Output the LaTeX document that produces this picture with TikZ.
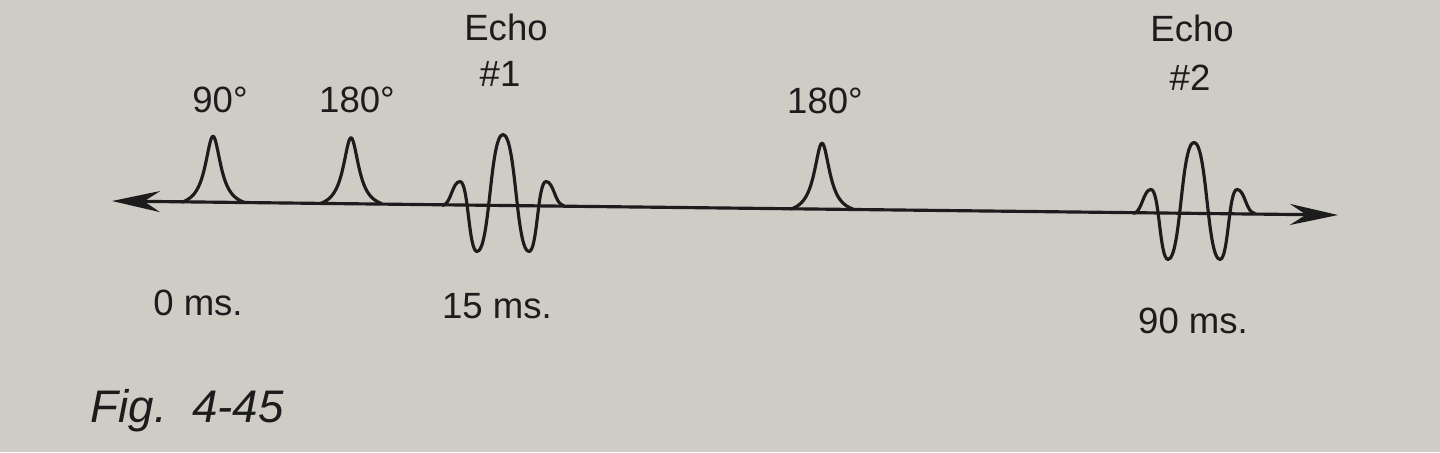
\documentclass[tikz,border=0pt]{standalone}
\usepackage{fontspec}
\setmainfont{Liberation Sans}
\usetikzlibrary{arrows.meta}
\definecolor{paper}{RGB}{207,204,198}
\definecolor{ink}{RGB}{28,28,28}

\begin{document}
\begin{tikzpicture}[x=0.1mm,y=-0.1mm,
    wave/.style={draw=ink,line width=0.9pt,line join=round},
    lbl/.style={text=ink,font=\fontsize{10.4}{12}\selectfont,inner sep=0pt,anchor=base},
    >={Stealth[length=4.8mm,width=2.1mm,inset=1.6mm]},
    rf/.pic={\draw[wave] plot[domain=-31:31,samples=63,smooth] (\x,{-66*(1/(1+(\x/9.5)^2)-0.0858)/0.9142});},
    echo/.pic={\draw[wave] (-61,0) .. controls (-52,0) and (-51,-24) .. (-43,-24)
        .. controls (-34.5,-24) and (-34.5,46) .. (-26,46)
        .. controls (-13,46) and (-13,-71) .. (0,-71)
        .. controls (13,-71) and (13,46) .. (26,46)
        .. controls (34.5,46) and (34.5,-24) .. (43,-24)
        .. controls (51,-24) and (52,0) .. (61,0);}
]
    \useasboundingbox (0,0) rectangle (1440,452);
    \fill[paper] (0,0) rectangle (1440,452);

    % time axis
    \coordinate (tstart) at (112,201);
    \coordinate (tend) at (1338,215);
    \draw[wave,<->] (tstart) -- (tend);

    % pulses and echoes
    \pic at (213,202.2) {rf};
    \pic at (351,203.7) {rf};
    \pic at (503,205.5) {echo};
    \pic at (822,209.1) {rf};
    \pic at (1194,213.4) {echo};

    % labels
    \node[lbl] (l90) at (220,112) {90°};
    \node[lbl] (l180a) at (357,112) {180°};
    \node[lbl] (echoa) at (506,40) {Echo};
    \node[lbl] (echoan) at (500,86) {\#1};
    \node[lbl] (l180b) at (825,113) {180°};
    \node[lbl] (echob) at (1192,41) {Echo};
    \node[lbl] (echobn) at (1190,90) {\#2};
    \node[lbl] (t0) at (198,315) {0 ms.};
    \node[lbl] (t15) at (497,318) {15 ms.};
    \node[lbl] (t90) at (1193,333) {90 ms.};
    \node[lbl,anchor=base west,font=\fontsize{13}{15}\itshape] (fig) at (90,422) {Fig.\ \ 4-45};
\end{tikzpicture}
\end{document}
